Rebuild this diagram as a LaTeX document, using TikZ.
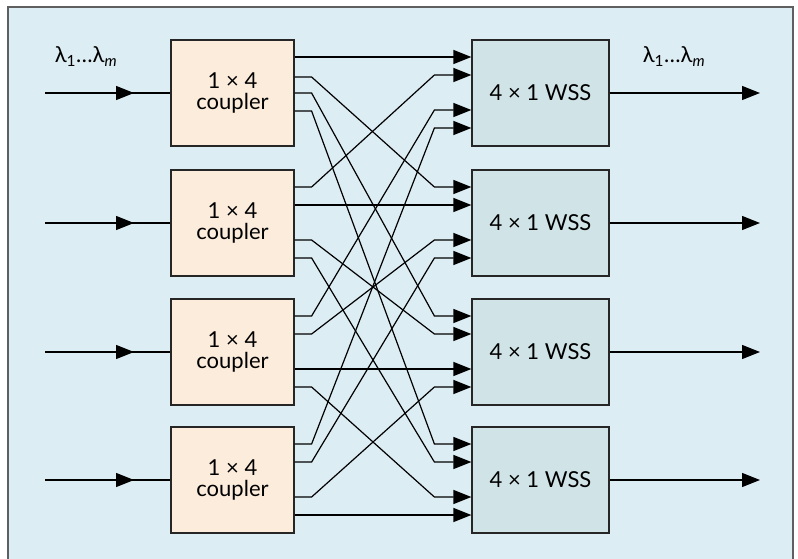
\documentclass[tikz,border=0pt]{standalone}
\usepackage{fontspec}
\setmainfont{Lato}
\usetikzlibrary{arrows.meta,calc,decorations.markings}
\definecolor{panelfill}{RGB}{221,237,244}
\definecolor{panelline}{RGB}{95,95,95}
\definecolor{couplerfill}{RGB}{251,236,220}
\definecolor{wssfill}{RGB}{208,228,231}
\tikzset{
  box/.style={draw=black!85,line width=1.2pt,align=center,minimum height=106pt},
  coupler/.style={box,fill=couplerfill,minimum width=123pt},
  wss/.style={box,fill=wssfill,minimum width=137pt},
  tip/.style={-{Triangle[length=18pt,width=14pt]}},
  midtip/.style={postaction=decorate,decoration={markings,
    mark=at position #1 with {\arrow{Triangle[length=18pt,width=14pt]}}}}
}

\begin{document}
\begin{tikzpicture}[x=1pt,y=-1pt,line width=1.2pt,font=\fontsize{22}{21}\selectfont]
    \useasboundingbox (0,0) rectangle (798,559);
    \fill[panelfill] (8,7) rectangle (793,559);
    \draw[panelline] (8,559) -- (8,7) -- (793,7) -- (793,559);

    \node[coupler] (C1) at (232.5,93) {1 × 4\\coupler};
    \node[coupler] (C2) at (232.5,223) {1 × 4\\coupler};
    \node[coupler] (C3) at (232.5,352) {1 × 4\\coupler};
    \node[coupler] (C4) at (232.5,480) {1 × 4\\coupler};
    \node[wss] (W1) at (540.5,93) {4 × 1 WSS};
    \node[wss] (W2) at (540.5,223) {4 × 1 WSS};
    \node[wss] (W3) at (540.5,352) {4 × 1 WSS};
    \node[wss] (W4) at (540.5,480) {4 × 1 WSS};

    \node (lamin) at (86,57) {λ\textsubscript{1}…λ\textsubscript{\itshape m}};
    \node (lamout) at (674,57) {λ\textsubscript{1}…λ\textsubscript{\itshape m}};

    \foreach \k in {1,...,4}{
        \coordinate (I\k) at ($(C\k.center)+(-187.5,0)$);
        \coordinate (O\k) at ($(W\k.center)+(219.5,0)$);
        \draw[midtip=0.71] (I\k) -- (C\k);
        \draw[tip] (W\k) -- (O\k);
    }

    \foreach \j/\dy in {1/-36,2/-18,3/17,4/35}{
        \foreach \k in {2,3,4} \coordinate (C\k-\j) at ($(C\k.east)+(0,\dy)$);
        \foreach \k in {1,...,4} \coordinate (W\k-\j) at ($(W\k.west)+(0,\dy)$);
    }
    \foreach \j/\dy in {1/-36,2/-16,3/0,4/18}
        \coordinate (C1-\j) at ($(C1.east)+(0,\dy)$);

    \foreach \i in {1,...,4}
        \foreach \j in {1,...,4}
            \draw[tip] (C\i-\j) -- ++(17,0) -- ($(W\j-\i)+(-37,0)$) -- (W\j-\i);
\end{tikzpicture}
\end{document}
